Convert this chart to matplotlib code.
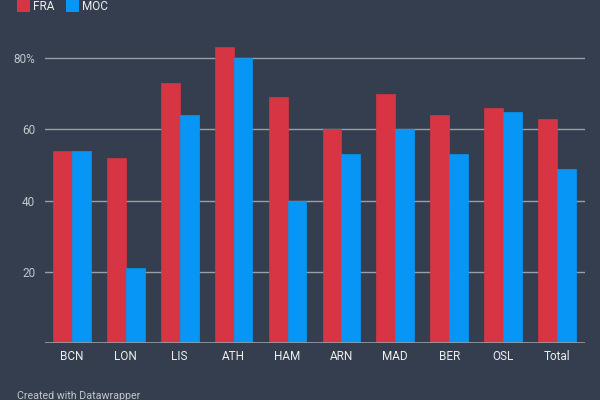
import matplotlib
matplotlib.use("Agg")
import matplotlib.pyplot as plt
import numpy as np
from matplotlib.patches import Rectangle

categories = ["BCN", "LON", "LIS", "ATH", "HAM", "ARN", "MAD", "BER", "OSL", "Total"]
fra = [54, 52, 73, 83, 69, 60, 70, 64, 66, 63]
moc = [54, 21, 64, 80, 40, 53, 60, 53, 65, 49]
yticks = [20, 40, 60, 80]
ytick_labels = ["20", "40", "60", "80%"]

bg = "#343e4e"
red = "#d73444"
blue = "#0796f5"

plt.rcParams['font.family'] = ['Roboto', 'DejaVu Sans']

fig = plt.figure(figsize=(6, 4), dpi=100, facecolor=bg)
ax = fig.add_axes([0.075, 0.1425, 0.9, 0.7825])
ax.set_facecolor(bg)

x = np.arange(len(categories))
w = 0.35
ax.bar(x - w/2, fra, width=w, color=red, edgecolor=red, linewidth=0.5, zorder=3)
ax.bar(x + w/2, moc, width=w, color=blue, edgecolor=blue, linewidth=0.5, zorder=3)

ax.set_xlim(-0.5, 9.52)
ax.set_ylim(0, 87.9)
for t in yticks:
    ax.axhline(t, color="#9a9ea5", linewidth=1, zorder=1)
ax.axhline(0, color="#9a9ea5", linewidth=1.2, zorder=4)

ax.set_yticks(yticks)
ax.set_yticklabels(ytick_labels, color="#c3c7cc", fontsize=8.5)
ax.set_xticks(x)
ax.set_xticklabels(categories, color="#eeeeee", fontsize=8.5)
ax.tick_params(axis='both', length=0, pad=7)
ax.tick_params(axis='x', pad=5)
for s in ax.spines.values():
    s.set_visible(False)

# legend (shifted slightly down so the text is not cut at the edge)
fig.patches.append(Rectangle((17/600, 1 - 12/400), 13/600, 12/400, transform=fig.transFigure,
                             facecolor=red, edgecolor='none'))
fig.patches.append(Rectangle((66/600, 1 - 12/400), 13/600, 12/400, transform=fig.transFigure,
                             facecolor=blue, edgecolor='none'))
fig.text(33/600, 1 - 10/400, "FRA", color="#eeeeee", fontsize=8.5, va="baseline")
fig.text(82/600, 1 - 10/400, "MOC", color="#eeeeee", fontsize=8.5, va="baseline")

fig.text(17/600, 1 - 399/400, "Created with Datawrapper", color="#c3c7cc", fontsize=7.7, va="baseline")

fig.savefig("out.png", dpi=100, facecolor=bg)
